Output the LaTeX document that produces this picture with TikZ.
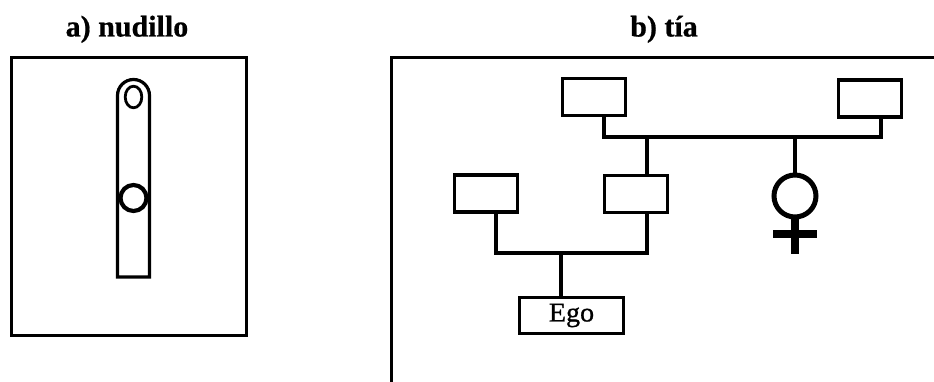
\documentclass[tikz,border=0pt]{standalone}
\usepackage{fontspec}
\setmainfont{Liberation Serif}
\newfontfamily\titlefont[FakeBold=0.6]{Liberation Serif}
\newfontfamily\egofont[FakeStretch=1.04,FakeBold=0.9]{Liberation Serif}
\begin{document}
\begin{tikzpicture}[x=1pt,y=-1pt,
  frame/.style={line width=3pt},
  kin/.style={draw, line width=3.2pt, minimum width=63pt, minimum height=37pt,
              inner sep=0pt, outer sep=0pt},
  link/.style={line width=3.2pt},
  caption/.style={anchor=base, inner sep=0pt,
                  font=\titlefont\bfseries\fontsize{30}{32}\selectfont}]
\useasboundingbox (0,0) rectangle (934,382);

% captions
\node[caption] (capa) at (127,36.5) {a) nudillo};
\node[caption] (capb) at (664,36.5) {b) tía};

% panel a: finger with knuckle
\draw[frame] (11.5,57.5) rectangle (246.5,335);
\draw[line width=3.2pt] (117.5,277) -- (117.5,95.5)
  arc[start angle=180, end angle=0, radius=16pt] -- (149.5,277) -- cycle;
\draw[line width=2.8pt] (133.5,97) ellipse[x radius=8.3pt, y radius=10.8pt];
\draw[line width=4.2pt, fill=white] (133.5,198) circle[radius=13pt];

% panel b: kinship chart
\draw[frame] (391,384) -- (391,57.5) -- (936,57.5);

\node[kin] (top1) at (594,97) {};
\node[kin] (top2) at (870,98.5) {};
\node[kin] (A) at (486,193.5) {};
\node[kin] (B) at (636,194) {};
\node[kin, minimum width=104pt, minimum height=36pt,
      font=\egofont\fontsize{27}{29}\selectfont] (ego) at (571.5,315.5) {Ego};
\node[circle, draw, line width=5pt, minimum size=42pt, inner sep=0pt,
      outer sep=0pt] (fem) at (795,196) {};

\coordinate (j1) at (604,137);
\coordinate (j2) at (647,137);
\coordinate (j5) at (795,137);
\coordinate (j3) at (496,253);
\coordinate (j4) at (561,253);

\draw[link] ([xshift=10pt]top1.south) |- (j1) -| ([xshift=11pt]top2.south);
\draw[link] (j2) -- (j2 |- B.north);
\draw[link] (j5) -- (fem.north);
\draw[link] ([xshift=10pt]A.south) |- (j3) -| ([xshift=11pt]B.south);
\draw[link] (j4) -- (j4 |- ego.north);

% cross of the female sign
\draw[line width=7.5pt] (fem.south) -- ++(0,37);
\draw[line width=8pt] ([yshift=-17pt]fem.south) ++(-22,0) -- ++(44,0);
\end{tikzpicture}
\end{document}
